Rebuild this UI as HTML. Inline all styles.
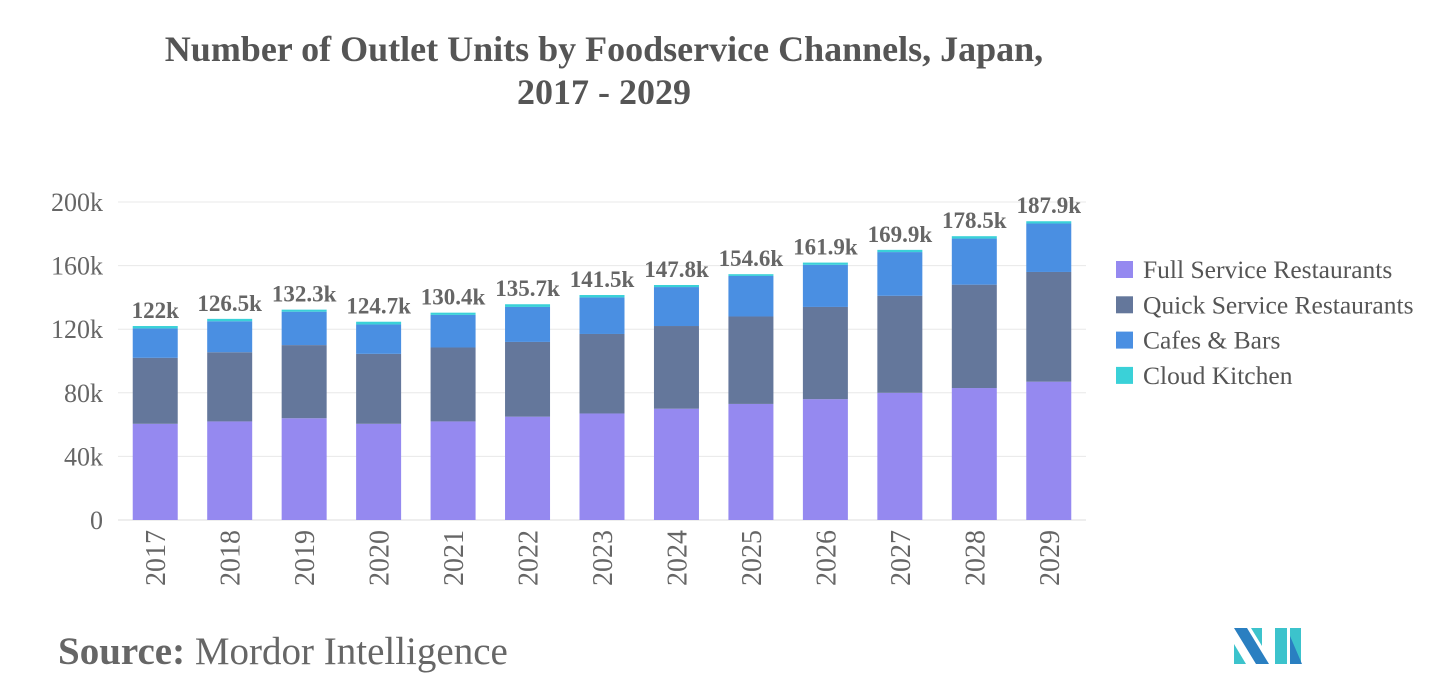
<!DOCTYPE html>
<html><head><meta charset="utf-8"><style>
body{margin:0;background:#fff;width:1456px;height:689px;overflow:hidden;font-family:"Liberation Serif",serif}
</style></head><body>
<svg width="1456" height="689" style="position:absolute;left:0;top:0">
<text x="604" y="61" text-anchor="middle" font-size="36" font-weight="bold" fill="#555">Number of Outlet Units by Foodservice Channels, Japan,</text>
<text x="604" y="104" text-anchor="middle" font-size="36" font-weight="bold" fill="#555">2017 - 2029</text>
<g id="grid"></g><g id="bars"></g><g id="labels"></g>
<g id="legend"></g>
<text x="58" y="664" font-size="39" fill="#666"><tspan font-weight="bold">Source:</tspan> Mordor Intelligence</text>
<g>
<polygon points="1234,628 1247,628 1269,664 1256,664" fill="#2a7fc1"/>
<polygon points="1234,644 1246,664 1234,664" fill="#3cc3cc"/>
<polygon points="1251,628 1262,628 1262,646" fill="#3cc3cc"/>
<polygon points="1275,628 1287,628 1287,664 1275,664" fill="#3cc3cc"/>
<polygon points="1290,628 1301,628 1301,664 1290,664 1290,645" fill="#3cc3cc"/>
<polygon points="1290,636 1302,664 1290,664" fill="#2a7fc1"/>
</g>
</svg>
<script>
const years=["2017","2018","2019","2020","2021","2022","2023","2024","2025","2026","2027","2028","2029"];
const fsr=[60.5,62,64,60.5,62,65,67,70,73,76,80,83,87];
const qsr=[41.5,43.5,46,44,46.5,47,50,52,55,58,61,65,69];
const cafes=[18.5,19.5,21,18.5,20.5,22,23,24.5,25.5,26.5,27.5,29,30.5];
const cloud=[1.5,1.5,1.3,1.7,1.4,1.7,1.5,1.3,1.1,1.4,1.4,1.5,1.4];
const totals=["122k","126.5k","132.3k","124.7k","130.4k","135.7k","141.5k","147.8k","154.6k","161.9k","169.9k","178.5k","187.9k"];
const yTicks=[0,40,80,120,160,200];
const series=[["Full Service Restaurants",fsr,"#9589f0"],["Quick Service Restaurants",qsr,"#64779b"],["Cafes & Bars",cafes,"#4a8fe2"],["Cloud Kitchen",cloud,"#3ad1d8"]];
const NS="http://www.w3.org/2000/svg";
const y0=520,yTop=202,x0=118,x1=1086;
const Y=v=>y0-(v/200)*(y0-yTop);
const step=(x1-x0)/years.length;
const X=i=>x0+step*(i+0.5);
const bw=45;
function mk(tag,attrs,parent,text){const e=document.createElementNS(NS,tag);for(const k in attrs)e.setAttribute(k,attrs[k]);if(text!==undefined)e.textContent=text;document.getElementById(parent).appendChild(e);return e;}
yTicks.forEach(t=>{
 const l=mk("line",{x1:x0,x2:x1,y1:Y(t),y2:Y(t),stroke:t===0?"#ddd":"#e8e8e8","stroke-width":1},"grid");
 
 
 const tx=mk("text",{x:103,y:Y(t)+9,"text-anchor":"end","font-size":26,fill:"#666"},"grid",t===0?"0":t+"k");
 
 
});
years.forEach((yr,i)=>{
 let acc=0;
 series.forEach(([nm,arr,c])=>{
  const r=mk("rect",{x:X(i)-bw/2,y:Y(acc+arr[i]),width:bw,height:Y(acc)-Y(acc+arr[i]),fill:c},"bars");
  
  
  acc+=arr[i];
 });
 const tl=mk("text",{x:X(i),y:Y(acc)-8,"text-anchor":"middle","font-size":23,"font-weight":"bold",fill:"#666"},"labels",totals[i]);
 
 
 const xl=mk("text",{x:0,y:0,"text-anchor":"end","font-size":28,fill:"#666",transform:`translate(${X(i)+10},530) rotate(-90)`},"labels",yr);
 
 
});
series.forEach(([nm,arr,c],k)=>{
 const yy=270+k*35.3;
 const s=mk("rect",{x:1116,y:yy-9,width:17,height:17,fill:c},"legend");
 
 
 const t=mk("text",{x:1143,y:yy+8,"font-size":25.5,fill:"#555"},"legend",nm);
 
 
});
</script>
</body></html>
